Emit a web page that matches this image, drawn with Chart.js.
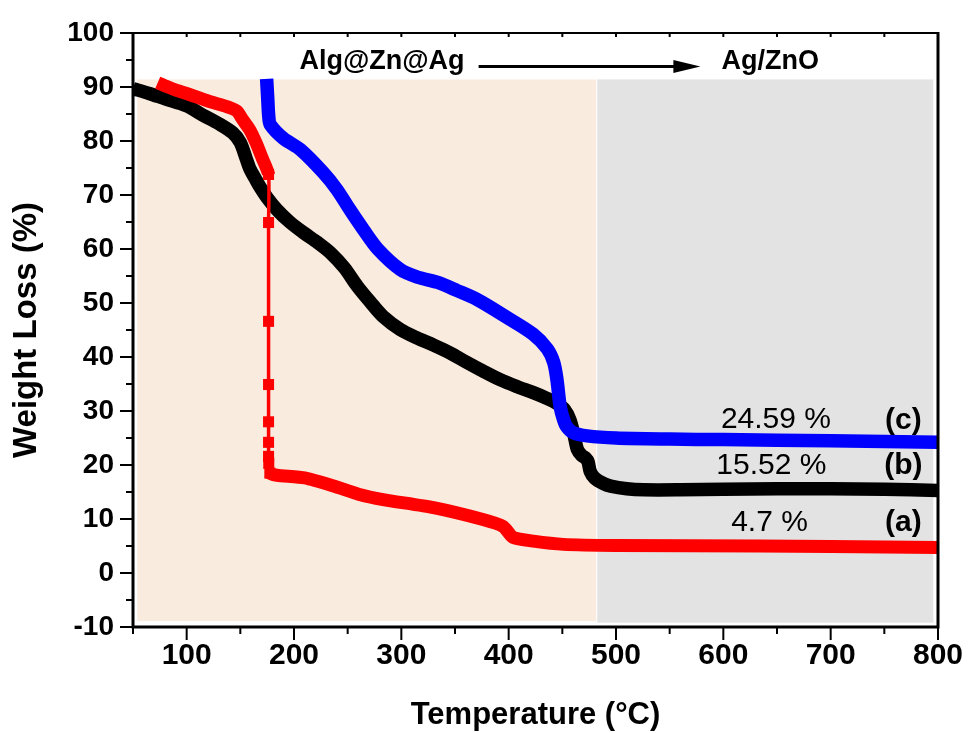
<!DOCTYPE html>
<html>
<head>
<meta charset="utf-8">
<script src="https://cdn.jsdelivr.net/npm/chart.js@4.4.0/dist/chart.umd.min.js"></script>
<style>
  html, body { margin: 0; padding: 0; background: #fff; }
  #wrap { width: 968px; height: 733px; }
</style>
</head>
<body>
<div id="wrap"><canvas id="tga" width="968" height="733"></canvas></div>
<script>
// (a) red
const tempA = [73, 80, 90, 100, 120, 140, 147, 152, 159, 165, 170, 176.3, 176.3, 176.3, 176.3, 176.3, 176.3, 176.3, 176.5, 177.5, 184, 210, 237, 260, 283, 330, 376, 395, 404, 423, 451, 500, 634, 700, 800];
const lossA = [90.8, 90.2, 89.4, 88.8, 87.4, 86.2, 85.5, 84, 82, 79.5, 77, 73.8, 64.9, 46.6, 34.9, 28, 24.2, 21.6, 20.3, 18.5, 18.1, 17.6, 16.1, 14.6, 13.6, 12.1, 9.9, 8.6, 6.6, 5.9, 5.3, 5.1, 5.0, 4.9, 4.7];

// (b) black
const tempB = [50, 65, 80, 100, 115, 130, 143, 150, 155, 159, 164, 168, 175, 184, 196, 209, 222, 234, 247, 259, 271, 283, 299, 315, 330, 345, 361, 376, 392, 408, 423, 435, 445, 452, 457, 461, 464, 468, 472, 474, 476, 480, 488, 495, 510, 526, 560, 600, 650, 700, 750, 800];
const lossB = [89.7, 88.8, 87.8, 86.5, 84.8, 83.2, 81.5, 79.7, 77, 74.8, 73, 71.6, 69.5, 67.3, 65, 63, 61.2, 59.3, 56.5, 53.1, 50.2, 47.5, 45.1, 43.5, 42.2, 40.8, 39, 37.4, 35.8, 34.5, 33.4, 32.4, 31.4, 30.3, 28.4, 25.5, 22.9, 21.8, 21.2, 20.6, 18.8, 17.6, 16.6, 16.1, 15.6, 15.4, 15.4, 15.5, 15.6, 15.6, 15.5, 15.3];

// (c) blue
const tempC = [174.5, 175.5, 176.5, 178, 190, 206, 227, 240, 252, 265, 278, 299, 315, 334, 352, 371, 397, 423, 436, 442, 445, 448, 451, 454, 460, 473, 500, 550, 600, 700, 800];
const lossC = [91.5, 88, 84.5, 83, 80.5, 78.4, 74.2, 71, 67.3, 63.5, 60, 56.2, 54.8, 53.8, 52.3, 50.6, 47.5, 44.2, 41.5, 39, 35.8, 30.8, 28.5, 27.1, 26, 25.4, 25, 24.8, 24.7, 24.5, 24.2];

// axis ranges
const xMin = 50, xMax = 800, yMin = -10, yMax = 100;

// shaded zones behind the curves
const zones = [
  { from: 54, to: 481.5, low: -8.9, high: 91.4, color: '#FAEBDF' },
  { from: 482.5, to: 795.6, low: -9.2, high: 91.4, color: '#E3E3E3' }
];

// text on the plot
const notes = [
  { text: '24.59 %', x: 649, y: 28.4, bold: false },
  { text: '(c)', x: 767.7, y: 28.2, bold: true },
  { text: '15.52 %', x: 644.7, y: 19.8, bold: false },
  { text: '(b)', x: 767.7, y: 19.9, bold: true },
  { text: '4.7 %', x: 643, y: 9.4, bold: false },
  { text: '(a)', x: 767.7, y: 9.35, bold: true }
];
const header = { from: 'Alg@Zn@Ag', to: 'Ag/ZnO', fromX: 282, toX: 643.8, textY: 94.7, arrowStart: 372, arrowEnd: 578.6, arrowY: 93.8 };

const FONT = '"Liberation Sans", Arial, sans-serif';
Chart.defaults.font.family = FONT;
Chart.defaults.color = '#000';

function pairs(xs, ys) {
  return xs.map((x, i) => ({ x: x, y: ys[i] }));
}

// red curve: the near-vertical drop is a thin line with square markers
function isDrop(i) {
  const prev = i > 0 && Math.abs(tempA[i] - tempA[i - 1]) < 2;
  const next = i < tempA.length - 1 && Math.abs(tempA[i + 1] - tempA[i]) < 2;
  return prev || next;
}

const decor = {
  id: 'decor',
  beforeDatasetsDraw(chart) {
    const { ctx, scales: { x, y } } = chart;
    ctx.save();
    zones.forEach(z => {
      const x0 = x.getPixelForValue(z.from), x1 = x.getPixelForValue(z.to);
      const y0 = y.getPixelForValue(z.high), y1 = y.getPixelForValue(z.low);
      ctx.fillStyle = z.color;
      ctx.fillRect(x0, y0, x1 - x0, y1 - y0);
    });
    ctx.restore();
  },
  afterDatasetsDraw(chart) {
    const { ctx, chartArea: a, scales: { x, y } } = chart;
    ctx.save();
    ctx.strokeStyle = '#000';
    ctx.fillStyle = '#000';

    // frame
    ctx.lineWidth = 2;
    ctx.beginPath(); ctx.moveTo(a.left, a.top); ctx.lineTo(a.right, a.top); ctx.stroke();
    ctx.lineWidth = 3;
    ctx.beginPath();
    ctx.moveTo(a.left, a.top - 1); ctx.lineTo(a.left, a.bottom);
    ctx.lineTo(a.right, a.bottom); ctx.lineTo(a.right, a.top - 1);
    ctx.stroke();

    // ticks
    ctx.lineWidth = 2;
    x.ticks.forEach(t => {
      const px = x.getPixelForValue(t.value);
      const len = t.value % 100 === 0 ? 13 : 7;
      ctx.beginPath(); ctx.moveTo(px, a.bottom); ctx.lineTo(px, a.bottom + len); ctx.stroke();
      ctx.beginPath(); ctx.moveTo(px, a.top); ctx.lineTo(px, a.top + 4); ctx.stroke();
    });
    y.ticks.forEach(t => {
      const py = y.getPixelForValue(t.value);
      const len = t.value % 10 === 0 ? 13 : 7;
      ctx.beginPath(); ctx.moveTo(a.left, py); ctx.lineTo(a.left - len, py); ctx.stroke();
    });

    // header + arrow
    ctx.textAlign = 'center';
    ctx.textBaseline = 'middle';
    ctx.font = 'bold 27px ' + FONT;
    ctx.fillText(header.from, x.getPixelForValue(header.fromX), y.getPixelForValue(header.textY));
    ctx.fillText(header.to, x.getPixelForValue(header.toX), y.getPixelForValue(header.textY));
    const ax0 = x.getPixelForValue(header.arrowStart), ax1 = x.getPixelForValue(header.arrowEnd);
    const ay = y.getPixelForValue(header.arrowY);
    ctx.lineWidth = 3;
    ctx.beginPath(); ctx.moveTo(ax0, ay); ctx.lineTo(ax1 - 20, ay); ctx.stroke();
    ctx.beginPath();
    ctx.moveTo(ax1, ay); ctx.lineTo(ax1 - 27, ay - 6.5); ctx.lineTo(ax1 - 27, ay + 6.5);
    ctx.closePath(); ctx.fill();

    // percent labels
    notes.forEach(n => {
      ctx.font = (n.bold ? 'bold ' : '') + '30px ' + FONT;
      ctx.fillText(n.text, x.getPixelForValue(n.x), y.getPixelForValue(n.y));
    });
    ctx.restore();
  }
};

new Chart(document.getElementById('tga'), {
  type: 'line',
  data: {
    datasets: [
      {
        label: '(a)',
        data: pairs(tempA, lossA),
        borderColor: '#FF0000',
        backgroundColor: '#FF0000',
        borderWidth: 13,
        tension: 0.2,
        borderCapStyle: 'butt',
        borderJoinStyle: 'round',
        pointStyle: 'rect',
        pointRadius: ctx => isDrop(ctx.dataIndex) ? 7.8 : 0,
        pointBorderWidth: 0,
        segment: {
          borderWidth: ctx => Math.abs(tempA[ctx.p1DataIndex] - tempA[ctx.p0DataIndex]) < 2 ? 3.5 : 13
        },
        order: 2
      },
      {
        label: '(b)',
        data: pairs(tempB, lossB),
        borderColor: '#000000',
        borderWidth: 13.5,
        tension: 0.3,
        borderJoinStyle: 'round',
        pointRadius: 0,
        order: 3
      },
      {
        label: '(c)',
        data: pairs(tempC, lossC),
        borderColor: '#0000FF',
        borderWidth: 13.5,
        tension: 0.3,
        borderJoinStyle: 'round',
        pointRadius: 0,
        order: 1
      }
    ]
  },
  options: {
    responsive: false,
    animation: false,
    layout: { padding: { top: 33, right: 30, left: 0, bottom: 0 } },
    plugins: {
      legend: { display: false },
      tooltip: { enabled: false }
    },
    scales: {
      x: {
        type: 'linear',
        min: xMin,
        max: xMax,
        afterFit: s => { s.height = 106; s.paddingLeft = 0; s.paddingRight = 0; },
        grid: { display: false, drawTicks: false },
        border: { display: false },
        ticks: {
          stepSize: 50,
          autoSkip: false,
          maxRotation: 0,
          padding: 11,
          font: { size: 30, weight: 'bold' },
          callback: v => v % 100 === 0 ? v : ''
        },
        title: {
          display: true,
          text: 'Temperature (°C)',
          font: { size: 31, weight: 'bold', lineHeight: 1.1 },
          padding: { top: 0, bottom: 0 }
        }
      },
      y: {
        type: 'linear',
        min: yMin,
        max: yMax,
        afterFit: s => { s.width = 133; s.paddingTop = 0; s.paddingBottom = 0; },
        grid: { display: false, drawTicks: false },
        border: { display: false },
        ticks: {
          stepSize: 5,
          autoSkip: false,
          padding: 19,
          font: { size: 28, weight: 'bold' },
          callback: v => v % 10 === 0 ? v : ''
        },
        title: {
          display: true,
          text: 'Weight Loss (%)',
          font: { size: 33, weight: 'bold', lineHeight: 1.1 },
          padding: { top: 9, bottom: 0 }
        }
      }
    }
  },
  plugins: [decor]
});
</script>
</body>
</html>
